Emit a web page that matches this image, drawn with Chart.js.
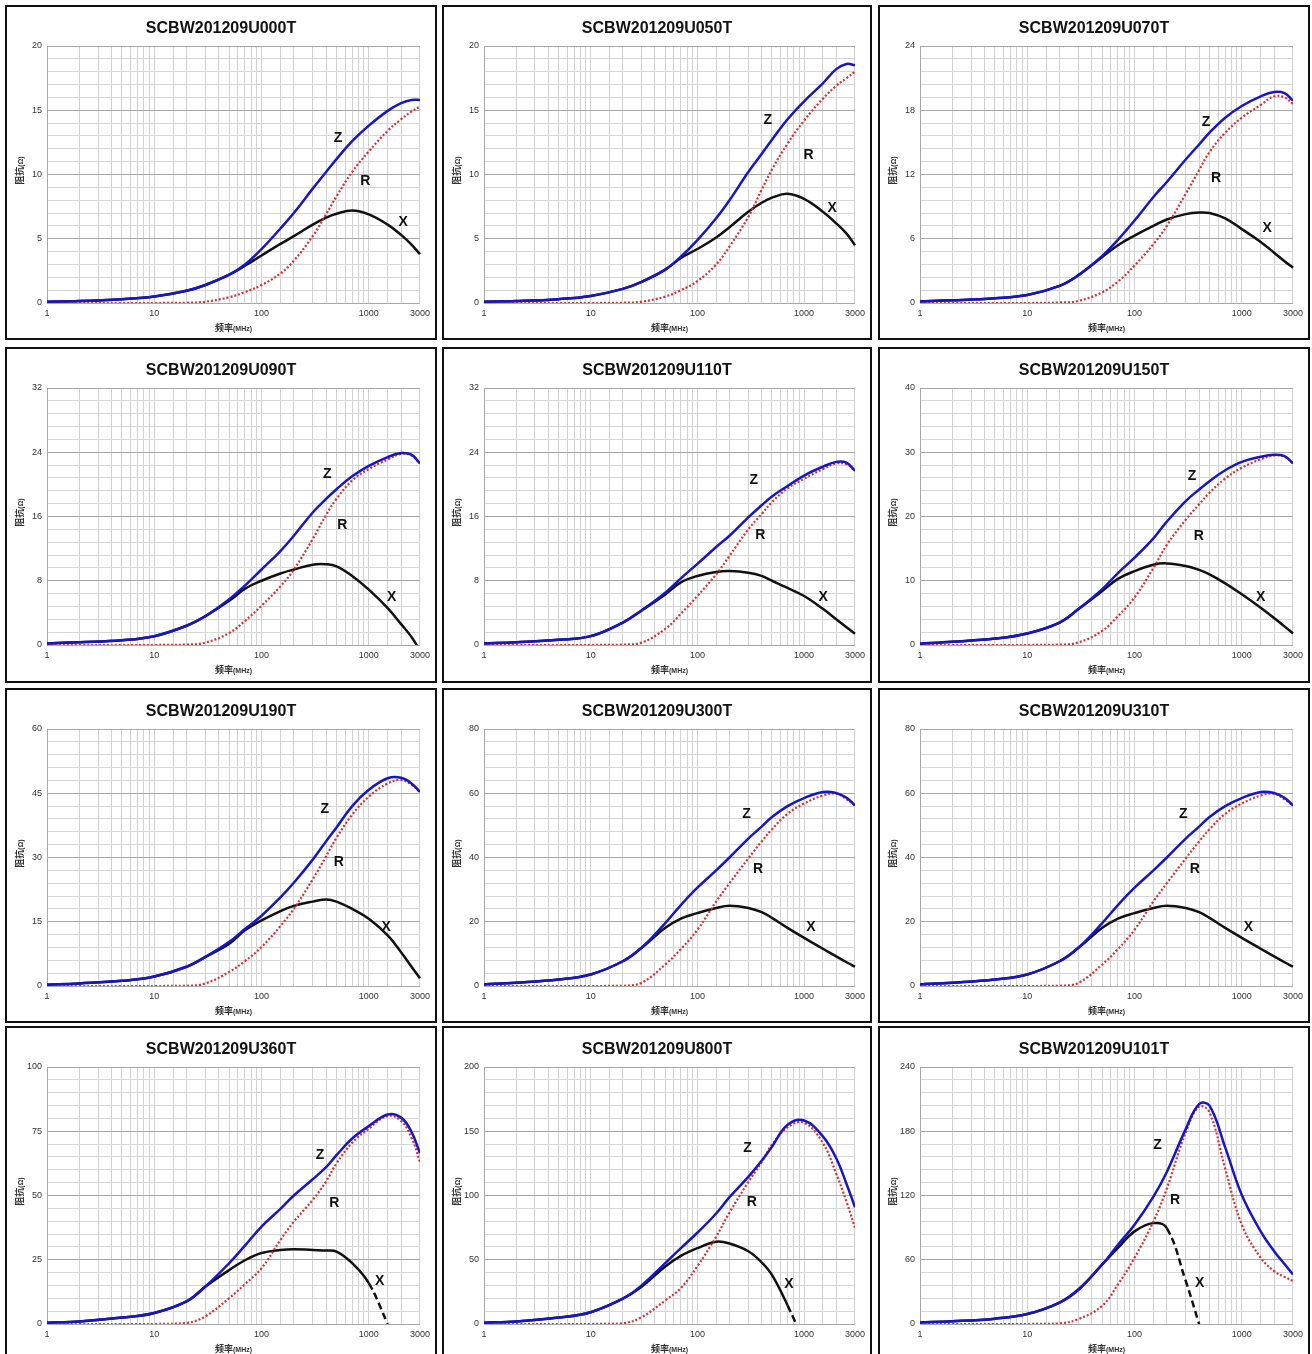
<!DOCTYPE html>
<html>
<head>
<meta charset="utf-8">
<script src="https://cdn.jsdelivr.net/npm/chart.js@4.4.0/dist/chart.umd.min.js"></script>
<style>
  body { margin: 0; width: 1312px; height: 1354px; overflow: hidden; background: #fff; position: relative; }
  .panel { position: absolute; border: 2px solid #111; box-sizing: border-box; background: #fff; }
  .panel .box { position: absolute; left: 0; top: 0; right: 0; bottom: 0; }
</style>
</head>
<body>
<script>
// frequency points (MHz), shared by all parts
const freqs = [1, 2, 5, 10, 20, 30, 50, 70, 100, 150, 200, 300, 400, 500, 700, 1000, 1500, 2000, 2500, 3000];

const partNames = ['SCBW201209U000T', 'SCBW201209U050T', 'SCBW201209U070T',
                   'SCBW201209U090T', 'SCBW201209U110T', 'SCBW201209U150T',
                   'SCBW201209U190T', 'SCBW201209U300T', 'SCBW201209U310T',
                   'SCBW201209U360T', 'SCBW201209U800T', 'SCBW201209U101T'];
const yMaxes = [20, 20, 24, 32, 32, 40, 60, 80, 80, 100, 200, 240];
const yMajor = [5, 5, 6, 8, 8, 10, 15, 20, 20, 25, 50, 60];
const xTickLabels = [1, 10, 100, 1000, 3000];

// impedance Z, resistance R, reactance X (ohm)
const zU000 = [0.1, 0.15, 0.3, 0.5, 0.95, 1.4, 2.2, 3.0, 4.2, 5.8, 7.0, 8.9, 10.2, 11.2, 12.6, 13.8, 14.95, 15.55, 15.8, 15.8];
const rU000 = [0, 0, 0, 0, 0.02, 0.1, 0.45, 0.85, 1.4, 2.3, 3.3, 5.2, 6.9, 8.3, 10.2, 11.8, 13.4, 14.3, 14.9, 15.3];
const xU000 = [0.1, 0.15, 0.3, 0.5, 0.95, 1.4, 2.2, 2.9, 3.7, 4.6, 5.2, 6.1, 6.65, 6.95, 7.2, 6.9, 6.1, 5.3, 4.55, 3.8];

const zU050 = [0.1, 0.15, 0.3, 0.55, 1.1, 1.65, 2.6, 3.6, 4.9, 6.6, 8.0, 10.2, 11.6, 12.7, 14.3, 15.7, 17.1, 18.2, 18.6, 18.5];
const rU050 = [0, 0, 0, 0, 0.02, 0.1, 0.5, 1.0, 1.7, 3.0, 4.4, 6.7, 8.8, 10.4, 12.4, 14.2, 15.9, 16.9, 17.5, 18.0];
const xU050 = [0.1, 0.15, 0.3, 0.55, 1.1, 1.65, 2.6, 3.5, 4.2, 5.1, 5.9, 7.1, 7.8, 8.2, 8.5, 8.1, 7.1, 6.2, 5.4, 4.5];

const zU070 = [0.15, 0.25, 0.45, 0.75, 1.6, 2.6, 4.4, 5.9, 7.7, 9.9, 11.3, 13.4, 14.8, 15.9, 17.3, 18.4, 19.3, 19.7, 19.6, 18.9];
const rU070 = [0, 0, 0, 0, 0.05, 0.2, 1.0, 2.0, 3.5, 5.5, 7.2, 10.2, 12.4, 14.1, 15.9, 17.3, 18.5, 19.3, 19.2, 18.6];
const xU070 = [0.15, 0.25, 0.45, 0.75, 1.6, 2.6, 4.3, 5.4, 6.3, 7.2, 7.8, 8.3, 8.45, 8.4, 7.9, 6.9, 5.7, 4.7, 3.9, 3.3];

const zU090 = [0.2, 0.35, 0.6, 1.1, 2.4, 3.6, 5.7, 7.4, 9.4, 11.7, 13.6, 16.5, 18.2, 19.4, 21.0, 22.3, 23.4, 23.9, 23.7, 22.6];
const rU090 = [0, 0, 0, 0, 0.05, 0.3, 1.5, 3.0, 4.9, 7.3, 9.4, 13.2, 16.2, 18.2, 20.5, 21.9, 23.1, 23.8, 23.6, 22.6];
const xU090 = [0.2, 0.35, 0.6, 1.1, 2.4, 3.6, 5.5, 7.0, 8.0, 8.9, 9.4, 10.0, 10.05, 9.8, 8.6, 6.9, 4.6, 2.6, 1.0, -0.7];

const zU110 = [0.2, 0.35, 0.65, 1.1, 2.8, 4.3, 6.5, 8.3, 10.1, 12.2, 13.6, 15.9, 17.4, 18.5, 19.8, 21.1, 22.2, 22.8, 22.7, 21.7];
const rU110 = [0, 0, 0, 0, 0.05, 0.3, 2.0, 3.9, 6.1, 8.8, 11.1, 14.4, 16.3, 17.8, 19.5, 20.7, 21.9, 22.6, 22.5, 21.7];
const xU110 = [0.2, 0.35, 0.65, 1.1, 2.8, 4.3, 6.3, 7.8, 8.6, 9.1, 9.2, 9.0, 8.6, 8.0, 7.1, 6.1, 4.5, 3.2, 2.2, 1.4];

const zU150 = [0.2, 0.5, 1.0, 1.8, 3.5, 5.6, 8.7, 11.2, 13.6, 16.6, 19.2, 22.4, 24.2, 25.5, 27.2, 28.5, 29.3, 29.6, 29.4, 28.3];
const rU150 = [0, 0, 0, 0, 0.05, 0.4, 2.2, 4.5, 7.4, 12.0, 15.6, 19.5, 21.9, 23.7, 25.9, 27.6, 28.9, 29.5, 29.3, 28.3];
const xU150 = [0.2, 0.5, 1.0, 1.8, 3.5, 5.6, 8.4, 10.3, 11.5, 12.5, 12.7, 12.3, 11.7, 11.0, 9.6, 7.9, 5.8, 4.2, 2.9, 1.8];

const zU190 = [0.3, 0.6, 1.2, 2.2, 4.5, 6.8, 10.3, 13.3, 16.4, 20.7, 24.1, 29.5, 33.8, 37.0, 42.0, 45.8, 48.5, 48.6, 47.3, 45.3];
const rU190 = [0, 0, 0, 0, 0.05, 0.6, 3.3, 5.8, 9.1, 14.0, 18.0, 24.9, 30.3, 34.6, 40.0, 44.2, 47.3, 48.1, 47.0, 45.3];
const xU190 = [0.3, 0.6, 1.2, 2.2, 4.5, 6.8, 9.9, 13.0, 15.3, 17.5, 18.7, 19.7, 20.2, 19.7, 18.0, 15.7, 11.8, 7.9, 4.5, 1.8];

const zU300 = [0.5, 1.0, 2.0, 3.6, 7.7, 11.9, 19.6, 25.2, 30.6, 36.0, 40.0, 45.9, 49.6, 52.6, 56.0, 58.5, 60.4, 60.1, 58.6, 56.2];
const rU300 = [0, 0, 0, 0, 0.05, 1.0, 6.7, 11.5, 17.5, 26.3, 32.0, 39.7, 45.0, 48.8, 53.6, 56.8, 59.3, 59.9, 58.1, 56.2];
const xU300 = [0.5, 1.0, 2.0, 3.6, 7.7, 11.9, 18.1, 21.0, 22.7, 24.3, 25.0, 24.3, 23.0, 21.2, 18.1, 15.0, 11.6, 9.2, 7.4, 6.0];

const zU310 = [0.5, 1.0, 2.0, 3.6, 7.7, 11.9, 19.6, 25.2, 30.6, 36.0, 40.0, 45.9, 49.6, 52.6, 56.0, 58.5, 60.4, 60.1, 58.6, 56.2];
const rU310 = [0, 0, 0, 0, 0.05, 1.0, 6.7, 11.5, 17.5, 26.3, 32.0, 39.7, 45.0, 48.8, 53.6, 56.8, 59.3, 59.9, 58.1, 56.2];
const xU310 = [0.5, 1.0, 2.0, 3.6, 7.7, 11.9, 18.1, 21.0, 22.7, 24.3, 25.0, 24.3, 23.0, 21.2, 18.1, 15.0, 11.6, 9.2, 7.4, 6.0];

const zU360 = [0.5, 1.0, 2.5, 4.3, 8.8, 14.6, 23.7, 30.5, 37.9, 44.8, 50.0, 56.3, 61.0, 65.7, 72.2, 77.0, 81.5, 80.3, 74.8, 66.4];
const rU360 = [0, 0, 0, 0, 0.4, 3.0, 10.1, 15.5, 21.7, 32.7, 39.8, 48.3, 55.5, 62.5, 70.5, 76.0, 81.0, 79.0, 72.5, 63.1];
const xU360 = [0.5, 1.0, 2.5, 4.3, 8.8, 14.6, 21.0, 24.8, 27.6, 28.8, 29.1, 28.8, 28.6, 28.2, 23.7, 15.9, 0, null, null, null];

const zU800 = [1, 2, 5, 9.2, 19.7, 30, 47.4, 59, 71, 86, 98.7, 114.5, 127, 138, 155, 158.4, 146, 129, 109, 90.8];
const rU800 = [0, 0, 0, 0, 0.5, 5.3, 18.4, 28, 45, 68, 86.8, 110.5, 126, 139.5, 153, 156.6, 140.8, 117, 95, 75];
const xU800 = [1, 2, 5, 9.2, 19.7, 29, 44.7, 53, 59, 64, 62.6, 56.6, 48, 38.2, 14.5, -14, null, null, null, null];

const zU101 = [1.5, 2.5, 5, 9.3, 20, 32.4, 55.6, 74, 92.7, 119, 142, 182, 205.4, 203.9, 165, 120.5, 86.5, 68, 56, 46.3];
const rU101 = [0, 0, 0, 0, 0.5, 4.6, 17, 37, 61.8, 95.8, 126.6, 179, 203, 197.7, 145, 92.7, 61.8, 49.4, 44, 40.2];
const xU101 = [1.5, 2.5, 5, 9.3, 20, 32, 55.6, 71, 86.5, 94.2, 89.6, 40.2, 0, null, null, null, null, null, null, null];

// where the Z / R / X letters sit, in (MHz, ohm)
const markPos = [
  [[517, 12.8], [930, 9.5], [2090, 6.3]],
  [[457, 14.2], [1100, 11.5], [1830, 7.35]],
  [[464, 16.9], [575, 11.7], [1720, 7.0]],
  [[410, 21.3], [565, 14.9], [1630, 5.9]],
  [[338, 20.5], [389, 13.7], [1510, 5.9]],
  [[343, 26.3], [398, 17.0], [1500, 7.5]],
  [[389, 41.2], [525, 28.8], [1450, 13.7]],
  [[288, 53.4], [370, 36.3], [1160, 18.3]],
  [[285, 53.4], [364, 36.3], [1150, 18.3]],
  [[351, 65.7], [478, 47], [1260, 16.6]],
  [[295, 137], [323, 94.7], [720, 31]],
  [[164, 167.4], [239, 115.8], [405, 38.6]]
];
// X turns dashed from this frequency on
const xDashFrom = [null, null, null, null, null, null, null, null, null, 1000, 700, 200];

const series = [
  [zU000, rU000, xU000], [zU050, rU050, xU050], [zU070, rU070, xU070],
  [zU090, rU090, xU090], [zU110, rU110, xU110], [zU150, rU150, xU150],
  [zU190, rU190, xU190], [zU300, rU300, xU300], [zU310, rU310, xU310],
  [zU360, rU360, xU360], [zU800, rU800, xU800], [zU101, rU101, xU101]
];

const colLeft = [5, 442, 878];
const colWidth = [432, 430, 432];
const rowTop = [5, 347, 688, 1026];
const rowHeight = [335, 336, 335, 340];
const PLOT_TOP = 39;
const PLOT_BOTTOM = 296;

Chart.defaults.font.family = '"Liberation Sans", Arial, sans-serif';

const textPlugin = {
  id: 'curveText',
  afterDatasetsDraw(chart, args, opts) {
    const { ctx, chartArea: a, scales } = chart;
    ctx.save();

    // chart title, centred on the whole panel
    ctx.fillStyle = '#111';
    ctx.textAlign = 'center';
    ctx.textBaseline = 'middle';
    ctx.font = 'bold 16px "Liberation Sans", Arial, sans-serif';
    ctx.fillText(opts.title, chart.width / 2, 22);

    ctx.font = 'bold 14px "Liberation Sans", Arial, sans-serif';
    ['Z', 'R', 'X'].forEach((t, i) => {
      const p = opts.marks[i];
      ctx.fillText(t, scales.x.getPixelForValue(p[0]), scales.y.getPixelForValue(p[1]));
    });

    // axis titles, CJK part a bit larger than the unit
    const big = 'bold 9px "Noto Sans CJK SC", sans-serif';
    const small = 'bold 7px "Liberation Sans", Arial, sans-serif';
    ctx.fillStyle = '#333';
    ctx.textAlign = 'left';
    ctx.font = big;
    let w1 = ctx.measureText('频率').width;
    ctx.font = small;
    let w2 = ctx.measureText('(MHz)').width;
    let x0 = (a.left + a.right) / 2 - (w1 + w2) / 2;
    const ty = a.bottom + 25;
    ctx.font = big;
    ctx.fillText('频率', x0, ty);
    ctx.font = small;
    ctx.fillText('(MHz)', x0 + w1, ty + 1);

    ctx.translate(13, (a.top + a.bottom) / 2 - 4);
    ctx.rotate(-Math.PI / 2);
    ctx.font = big;
    w1 = ctx.measureText('阻抗').width;
    ctx.font = small;
    w2 = ctx.measureText('(Ω)').width;
    x0 = -(w1 + w2) / 2;
    ctx.font = big;
    ctx.fillText('阻抗', x0, 0);
    ctx.font = small;
    ctx.fillText('(Ω)', x0 + w1, 1);
    ctx.restore();
  }
};

partNames.forEach((name, i) => {
  const col = i % 3, row = Math.floor(i / 3);
  const panel = document.createElement('div');
  panel.className = 'panel';
  panel.style.left = colLeft[col] + 'px';
  panel.style.top = rowTop[row] + 'px';
  panel.style.width = colWidth[col] + 'px';
  panel.style.height = rowHeight[row] + 'px';
  const box = document.createElement('div');
  box.className = 'box';
  const canvas = document.createElement('canvas');
  box.appendChild(canvas);
  panel.appendChild(box);
  document.body.appendChild(panel);

  const canvasH = rowHeight[row] - 4;
  const canvasW = colWidth[col] - 4;
  const major = yMajor[i];
  const isMajor = v => Math.abs(v / major - Math.round(v / major)) < 1e-6;
  const [zs, rs, xs] = series[i];
  const dashFrom = xDashFrom[i];

  new Chart(canvas, {
    type: 'line',
    data: {
      labels: freqs,
      datasets: [
        {
          label: 'Z',
          data: zs,
          borderColor: '#1616c8',
          borderWidth: 2.5,
          pointRadius: 0,
          tension: 0.4
        },
        {
          label: 'R',
          data: rs,
          borderColor: '#e02a2a',
          borderWidth: 2.2,
          borderDash: [2, 2],
          pointRadius: 0,
          tension: 0.4
        },
        {
          label: 'X',
          data: xs,
          borderColor: '#111',
          borderWidth: 2.5,
          pointRadius: 0,
          tension: 0.4,
          clip: { left: 3, right: 3, top: 3, bottom: 0 },
          segment: {
            borderDash: c => (dashFrom !== null && c.p0.parsed.x >= dashFrom) ? [7, 4] : undefined
          }
        }
      ]
    },
    options: {
      responsive: true,
      maintainAspectRatio: false,
      animation: false,
      layout: { padding: { left: 0, right: canvasW - 414, top: PLOT_TOP, bottom: 0 } },
      plugins: {
        legend: { display: false },
        tooltip: { enabled: false },
        title: { display: false },
        curveText: { marks: markPos[i], title: name }
      },
      scales: {
        x: {
          type: 'logarithmic',
          min: 1,
          max: 3000,
          afterFit: s => { s.height = canvasH - PLOT_BOTTOM; },
          grid: { color: '#d2d2d2', lineWidth: 1, drawTicks: false },
          border: { color: '#a8a8a8' },
          ticks: {
            autoSkip: false,
            maxRotation: 0,
            padding: 5,
            color: '#333',
            font: { size: 9 },
            callback: v => xTickLabels.includes(v) ? String(v) : ''
          }
        },
        y: {
          min: 0,
          max: yMaxes[i],
          afterFit: s => { s.width = 40; },
          grid: {
            color: c => (c.tick && isMajor(c.tick.value)) ? '#a8a8a8' : '#d6d6d6',
            lineWidth: 1,
            drawTicks: false
          },
          border: { color: '#a8a8a8' },
          ticks: {
            stepSize: major / 5,
            autoSkip: false,
            padding: 5,
            color: '#333',
            font: { size: 9 },
            callback: v => isMajor(v) ? String(Math.round(v)) : ''
          }
        }
      }
    },
    plugins: [textPlugin]
  });
});
</script>
</body>
</html>
